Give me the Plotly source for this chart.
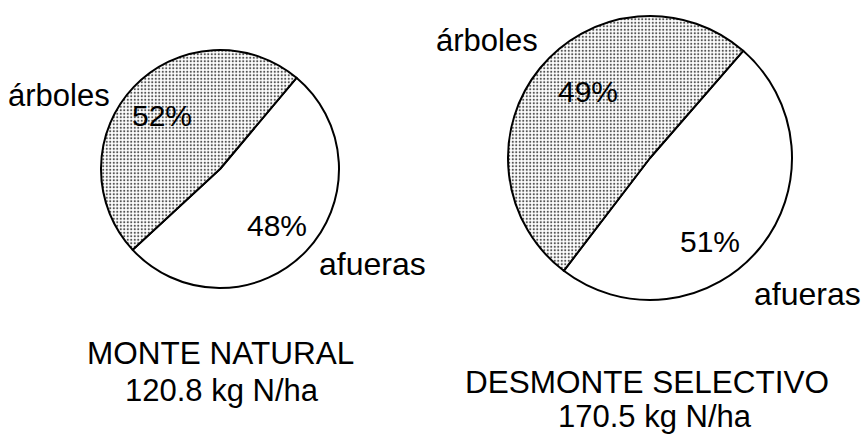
import plotly.graph_objects as go

W, H = 865, 434

labels = ["árboles", "afueras"]
pct_monte = [52, 48]
pct_desmonte = [49, 51]
titles = ["MONTE NATURAL", "DESMONTE SELECTIVO"]
totals = ["120.8 kg N/ha", "170.5 kg N/ha"]

FONT = "Liberation Sans"


def px_x(x):
    return x / W


def px_y(y):
    return 1 - y / H


def domain(cx, cy, d):
    return dict(x=[px_x(cx - d / 2), px_x(cx + d / 2)],
                y=[px_y(cy + d / 2), px_y(cy - d / 2)])


fig = go.Figure()

pies = [
    (pct_monte, (220, 169, 238), 40),
    (pct_desmonte, (650, 158, 284), 41),
]
for vals, (cx, cy, d), rot in pies:
    fig.add_trace(go.Pie(
        labels=labels, values=vals, sort=False, direction="counterclockwise",
        rotation=rot, textinfo="none", hoverinfo="label+percent",
        showlegend=False, domain=domain(cx, cy, d),
        marker=dict(
            colors=["white", "white"],
            line=dict(color="black", width=2),
            pattern=dict(shape=["", "."], fgcolor="#555555", bgcolor="white",
                         size=3.5, solidity=0.3, fillmode="replace"),
        ),
    ))

ann = []


def add(text, x, y, size=30):
    ann.append(dict(text=text, x=px_x(x), y=px_y(y), xref="paper", yref="paper",
                    showarrow=False, xanchor="center", yanchor="middle",
                    font=dict(family=FONT, size=size, color="black")))


# left pie labels
add(labels[0], 59, 95, 31)
add(f"{pct_monte[0]}%", 162, 115)
add(f"{pct_monte[1]}%", 277, 226)
add(labels[1], 372, 264, 32)
# right pie labels
add(labels[0], 487, 40, 31)
add(f"{pct_desmonte[0]}%", 588, 91)
add(f"{pct_desmonte[1]}%", 710, 241)
add(labels[1], 807, 294, 32)
# titles
add(titles[0], 221, 353, 31.5)
add(totals[0], 222, 390, 31)
add(titles[1], 647, 382, 31.5)
add(totals[1], 655, 416, 31)

fig.update_layout(
    width=W, height=H, margin=dict(l=0, r=0, t=0, b=0),
    paper_bgcolor="white", plot_bgcolor="white",
    annotations=ann,
)

fig.write_html("out.html", config={"displayModeBar": False},
               post_script="document.body.style.margin='0';document.body.style.overflow='hidden';")
